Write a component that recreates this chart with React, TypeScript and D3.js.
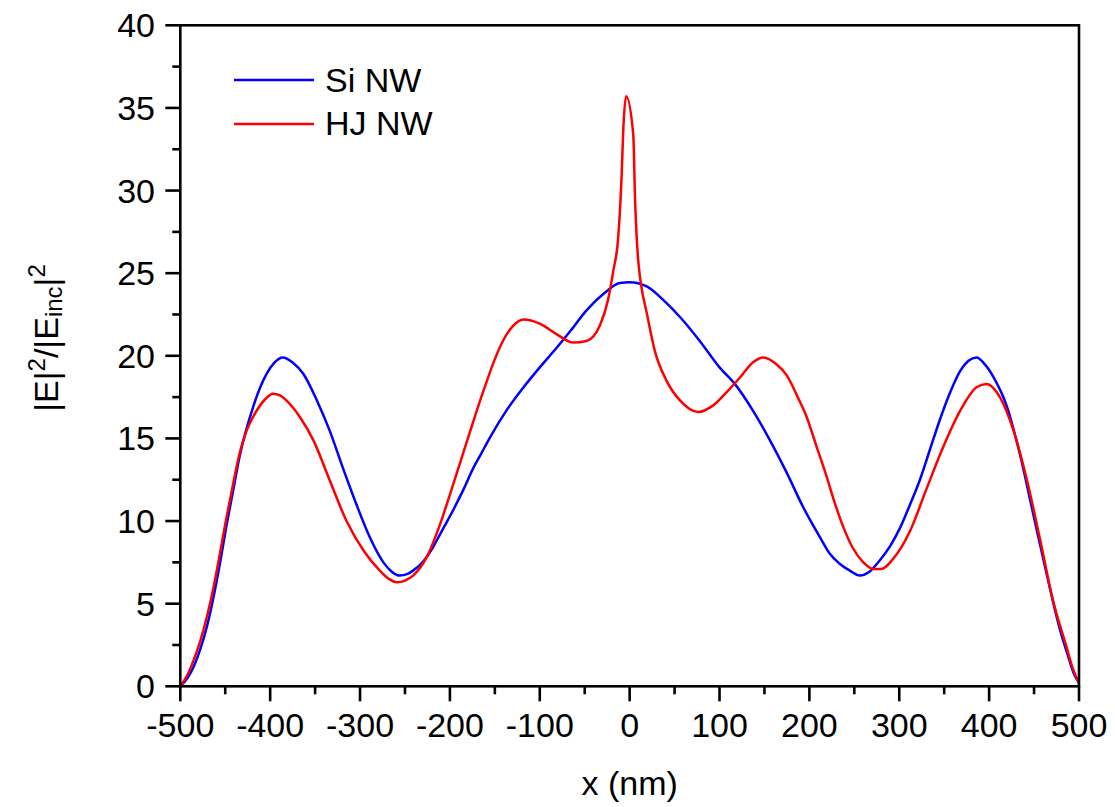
import React from "react";
import * as d3 from "d3";

const siX = [-500, -492, -485, -478, -470, -463, -456, -449, -441, -434, -419, -404, -395, -386, -375, -363, -348, -334, -319, -304, -289, -274, -265, -256, -247, -241, -229, -219, -208, -196, -185, -174, -165, -155, -137, -118, -100, -81, -66, -48, -29, -11, 0, 19, 37, 56, 78, 100, 117, 137, 156, 175, 193, 212, 223, 233, 245, 256, 266, 278, 290, 301, 312, 323, 334, 345, 356, 368, 377, 386, 395, 405, 420, 434, 449, 464, 479, 488, 494, 500];
const siY = [0, 0.5, 1.2, 2.2, 3.7, 5.4, 7.4, 9.6, 11.9, 13.9, 16.9, 18.9, 19.6, 19.9, 19.6, 18.9, 17.3, 15.5, 13.2, 11.0, 9.0, 7.5, 6.95, 6.7, 6.8, 7.0, 7.6, 8.4, 9.5, 10.7, 11.9, 13.2, 14.1, 15.1, 16.7, 18.1, 19.3, 20.5, 21.5, 22.75, 23.75, 24.4, 24.45, 24.2, 23.4, 22.35, 20.9, 19.3, 18.3, 16.7, 14.9, 12.9, 10.85, 9.0, 8.0, 7.45, 7.0, 6.7, 6.9, 7.6, 8.5, 9.6, 11.0, 12.5, 14.3, 16.1, 17.7, 19.1, 19.7, 19.9, 19.5, 18.7, 16.9, 14.1, 10.45, 6.8, 3.4, 1.8, 0.8, 0.2];

const hjX = [-500, -492, -485, -478, -470, -463, -456, -449, -441, -434, -426, -419, -405, -397, -389, -382, -367, -352, -334, -315, -296, -278, -268, -259, -250, -241, -226, -211, -200, -190, -180, -170, -160, -150, -140, -130, -118, -100, -81, -63, -48, -33, -24, -18, -13, -9, -7, -4, 4, 6, 8, 10, 13, 19, 28, 41, 56, 76, 93, 108, 123, 137, 149, 163, 175, 187, 197, 208, 218, 227, 238, 248, 260, 271, 280, 293, 312, 330, 349, 368, 386, 397, 412, 427, 442, 457, 471, 486, 493, 500];
const hjY = [0, 0.7, 1.6, 2.7, 4.3, 6.0, 8.0, 10.1, 12.3, 14.1, 15.5, 16.3, 17.4, 17.7, 17.6, 17.3, 16.3, 14.9, 12.5, 10.0, 8.2, 7.0, 6.5, 6.3, 6.4, 6.7, 7.8, 9.8, 11.6, 13.3, 15.0, 16.7, 18.3, 19.8, 21.0, 21.8, 22.2, 21.95, 21.3, 20.8, 20.9, 21.85, 23.4, 25.2, 27.0, 30.8, 33.8, 35.7, 33.4, 29.5, 27.0, 25.5, 24.2, 22.6, 20.3, 18.5, 17.3, 16.6, 17.0, 17.8, 18.7, 19.6, 19.9, 19.5, 18.8, 17.5, 16.3, 14.5, 12.9, 11.3, 9.6, 8.4, 7.5, 7.1, 7.1, 7.7, 9.4, 11.9, 14.5, 16.7, 18.1, 18.3, 17.5, 15.5, 12.5, 8.8, 5.2, 2.4, 1.1, 0.2];

const seriesNames = ["Si NW", "HJ NW"];
const seriesColors = ["#0000FF", "#FF0000"];
const xMajorTicks = [-500, -400, -300, -200, -100, 0, 100, 200, 300, 400, 500];
const xMinorTicks = [-450, -350, -250, -150, -50, 50, 150, 250, 350, 450];
const yMajorTicks = [0, 5, 10, 15, 20, 25, 30, 35, 40];
const yMinorTicks = [2.5, 7.5, 12.5, 17.5, 22.5, 27.5, 32.5, 37.5];

export default function App() {
  const L = 180.3, R = 1079, T = 25.3, B = 686.3;
  const x = d3.scaleLinear().domain([-500, 500]).range([L, R]);
  const y = d3.scaleLinear().domain([0, 40]).range([B, T]);
  const line = d3
    .line<[number, number]>()
    .x((d) => x(d[0]))
    .y((d) => y(d[1]))
    .curve(d3.curveMonotoneX);
  const si = siX.map((v, i) => [v, siY[i]] as [number, number]);
  const hj = hjX.map((v, i) => [v, hjY[i]] as [number, number]);
  const font = "Arial, 'Liberation Sans', sans-serif";
  const fs = 34;
  return (
    <svg width={1115} height={807} style={{ position: "absolute", left: 0, top: 0, background: "#fff" }} fontFamily={font}>
      <path d={line(si) || ""} fill="none" stroke={seriesColors[0]} strokeWidth={2.5} />
      <path d={line(hj) || ""} fill="none" stroke={seriesColors[1]} strokeWidth={2.5} />
      <rect x={L} y={T} width={R - L} height={B - T} fill="none" stroke="#000" strokeWidth={2.6} />
      {xMajorTicks.map((t) => (
        <g key={"xm" + t}>
          <line x1={x(t)} x2={x(t)} y1={B} y2={B + 15} stroke="#000" strokeWidth={2.6} />
          <text x={x(t)} y={737} fontSize={fs} textAnchor="middle">{t}</text>
        </g>
      ))}
      {xMinorTicks.map((t) => (
        <line key={"xn" + t} x1={x(t)} x2={x(t)} y1={B} y2={B + 8} stroke="#000" strokeWidth={2.6} />
      ))}
      {yMajorTicks.map((t) => (
        <g key={"ym" + t}>
          <line x1={L - 15} x2={L} y1={y(t)} y2={y(t)} stroke="#000" strokeWidth={2.6} />
          <text x={155} y={y(t) + 12} fontSize={fs} textAnchor="end">{t}</text>
        </g>
      ))}
      {yMinorTicks.map((t) => (
        <line key={"yn" + t} x1={L - 8} x2={L} y1={y(t)} y2={y(t)} stroke="#000" strokeWidth={2.6} />
      ))}
      <text x={(L + R) / 2} y={795} fontSize={fs} textAnchor="middle">x (nm)</text>
      <text transform="translate(58,338) rotate(-90)" fontSize={fs} textAnchor="middle">
        <tspan>|E|</tspan>
        <tspan fontSize={24} dy={-13}>2</tspan>
        <tspan dy={13}>/|E</tspan>
        <tspan fontSize={24} dy={4}>inc</tspan>
        <tspan dy={-4}>|</tspan>
        <tspan fontSize={24} dy={-13}>2</tspan>
      </text>
      {seriesNames.map((n, i) => (
        <g key={n}>
          <line x1={234} x2={314} y1={80 + i * 44} y2={80 + i * 44} stroke={seriesColors[i]} strokeWidth={2.5} />
          <text x={325} y={92 + i * 43} fontSize={fs}>{n}</text>
        </g>
      ))}
    </svg>
  );
}
